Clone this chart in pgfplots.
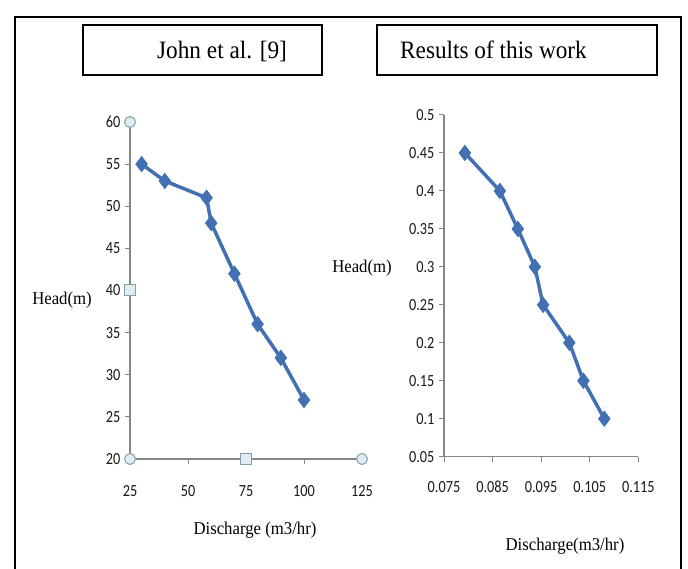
\documentclass[border=0pt]{standalone}
\usepackage{pgfplots}
\pgfplotsset{compat=1.18}
\usepackage{fontspec}
\setmainfont{Liberation Serif}
\newfontfamily\narrowserif[FakeStretch=0.93]{Liberation Serif}
\newfontfamily\tickfont[FakeStretch=0.84]{Carlito}
\definecolor{serblue}{RGB}{66,112,178}
\definecolor{axgray}{RGB}{134,134,134}
\definecolor{mkedge}{RGB}{130,160,170}
\definecolor{mkfill}{RGB}{225,236,240}
\begin{document}
\begin{tikzpicture}[x=1pt,y=1pt]
\useasboundingbox (0,0) rectangle (688,569);
\fill[white] (0,0) rectangle (688,569);
% outer frame
\draw[line width=2.5pt] (15,-10) -- (15,552) -- (681,552) -- (681,-10);
% title boxes
\draw[line width=1.4pt] (83,544) rectangle (322,494);
\node[anchor=base west,font=\narrowserif\fontsize{25}{28}\selectfont,inner sep=0pt] at (157,510) {John et al. [9]};
\draw[line width=1.4pt] (377,544) rectangle (657,494);
\node[anchor=base west,font=\narrowserif\fontsize{25}{28}\selectfont,inner sep=0pt] at (400,510) {Results of this work};

\pgfplotsset{
  myax/.style={
    scale only axis,
    axis x line=bottom, axis y line=left,
    axis line style={axgray,line width=1.2pt,-},
    tick style={axgray,line width=1pt},
    tick align=outside,
    major tick length=5pt,
    ticklabel style={font=\tickfont\fontsize{17}{19}\selectfont,text=black!90},
    clip=false,
  }
}
% left axis
\begin{axis}[myax,
  at={(130pt,110pt)}, anchor=south west,
  width=232pt, height=337pt,
  xmin=25, xmax=125, ymin=20, ymax=60,
  xtick={25,50,75,100,125}, xticklabels={25,50,75,100,125},
  ytick={20,25,30,35,40,45,50,55,60}, yticklabels={20,25,30,35,40,45,50,55,60},
  xticklabel style={yshift=-18pt},
  yticklabel style={xshift=-1pt},
]
\addplot[serblue, line width=3.5pt, mark=diamond*, mark size=7.5pt, mark options={fill=serblue,line width=1pt}]
coordinates {(30,55) (40,53) (58,51) (60,48) (70,42) (80,36) (90,32) (100,27)};
\addplot[only marks, mark=*, mark size=5.5pt, mark options={draw=mkedge,fill=mkfill,line width=1pt}]
coordinates {(25,60) (25,20) (125,20)};
\addplot[only marks, mark=square*, mark size=5.5pt, mark options={draw=mkedge,fill=mkfill,line width=1pt}]
coordinates {(25,40) (75,20)};
\end{axis}
% right axis
\begin{axis}[myax,
  at={(444pt,112.3pt)}, anchor=south west,
  width=194.3pt, height=341.7pt,
  xmin=0.075, xmax=0.115, ymin=0.05, ymax=0.5,
  xtick={0.075,0.085,0.095,0.105,0.115},
  xticklabels={0.075,0.085,0.095,0.105,0.115},
  ytick={0.05,0.1,0.15,0.2,0.25,0.3,0.35,0.4,0.45,0.5},
  yticklabels={0.05,0.1,0.15,0.2,0.25,0.3,0.35,0.4,0.45,0.5},
  xticklabel style={yshift=-16pt},
  yticklabel style={xshift=-1pt},
]
\addplot[serblue, line width=3.5pt, mark=diamond*, mark size=7.5pt, mark options={fill=serblue,line width=1pt}]
coordinates {(0.0793,0.45) (0.0865,0.4) (0.0902,0.35) (0.0937,0.3) (0.0954,0.25) (0.1008,0.2) (0.1037,0.15) (0.108,0.1)};
\end{axis}
% axis titles
\node[font=\narrowserif\fontsize{18}{20}\selectfont] at (62,269) {Head(m)};
\node[font=\narrowserif\fontsize{18}{20}\selectfont] at (255,39) {Discharge (m3/hr)};
\node[font=\narrowserif\fontsize{18}{20}\selectfont] at (362,301) {Head(m)};
\node[font=\narrowserif\fontsize{18}{20}\selectfont] at (565,23) {Discharge(m3/hr)};
\end{tikzpicture}
\end{document}
